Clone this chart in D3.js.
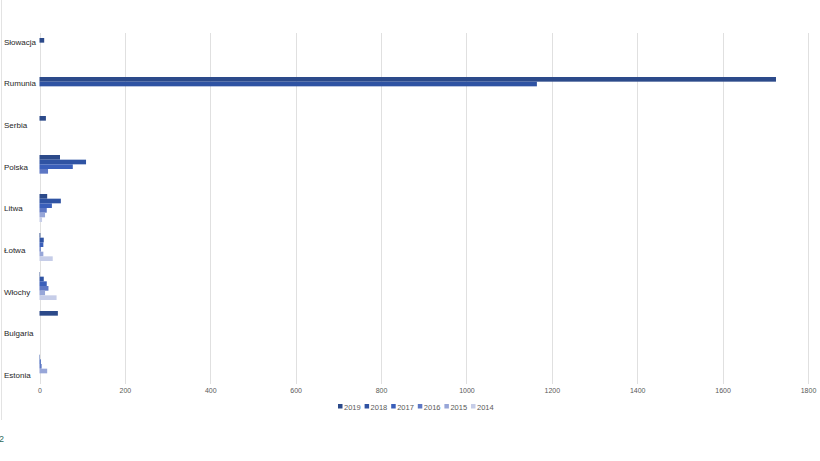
<!DOCTYPE html>
<head>
    <meta charset="utf-8">
</head>

<style type="text/css">

    body {
        margin: 0;
        background: #fff;
        font-family: "Liberation Sans", Arial, sans-serif;
    }

    .grid line {
        stroke: #e0e0e0;
        stroke-width: 1;
    }

    .xaxis text {
        fill: #595959;
        font-size: 7px;
    }

    .cat-label {
        fill: #262626;
        font-size: 8px;
    }

    .legend text {
        fill: #595959;
        font-size: 7.5px;
    }

</style>

<body>
</body>

<script src="https://d3js.org/d3.v7.min.js"></script>

<script>

// countries, top to bottom
var countries = ["Słowacja", "Rumunia", "Serbia", "Polska", "Litwa", "Łotwa", "Włochy", "Bulgaria", "Estonia"];
var years = ["2019", "2018", "2017", "2016", "2015", "2014"];
var xTicks = [0, 200, 400, 600, 800, 1000, 1200, 1400, 1600, 1800];

// one array per year, same order as countries
var v2019 = [11, 1725, 15, 48, 18, 2, 1, 43, 0];
var v2018 = [0, 1165, 0, 109, 50, 10, 10, 0, 1];
var v2017 = [0, 0, 0, 78, 29, 9, 17, 0, 3];
var v2016 = [0, 0, 0, 20, 17, 3, 21, 0, 5];
var v2015 = [0, 0, 0, 0, 13, 9, 13, 0, 18];
var v2014 = [0, 0, 0, 0, 6, 31, 40, 0, 0];

var colors = ["#2c4a8a", "#2f53a3", "#3a5fba", "#5d77c4", "#97a6d8", "#c6cde8"];

var seriesValues = [v2019, v2018, v2017, v2016, v2015, v2014];

var W = 820, H = 461;

var svg = d3.select("body").append("svg")
    .attr("width", W)
    .attr("height", H);

var xscale = d3.scaleLinear()
    .domain([0, 1800])
    .range([39.5, 808]);

var yscale = d3.scaleBand()
    .domain(countries)
    .range([32.5, 383.5])
    .paddingInner(0.282)
    .paddingOuter(0.141);

var yinner = d3.scaleBand()
    .domain(years)
    .range([0, yscale.bandwidth()]);

// labels sit on their own spacing in the picture
var labelScale = d3.scalePoint()
    .domain(countries)
    .range([42, 375]);

var colorScale = d3.scaleOrdinal()
    .domain(years)
    .range(colors);

// faint frame line at left edge
svg.append("line")
    .attr("x1", 1.5).attr("x2", 1.5)
    .attr("y1", 0).attr("y2", 420)
    .attr("stroke", "#e3e3e3");

// gridlines
svg.append("g")
    .attr("class", "grid")
    .selectAll("line")
    .data(xTicks)
    .enter()
    .append("line")
    .attr("x1", function(d) { return Math.round(xscale(d)) + 0.5; })
    .attr("x2", function(d) { return Math.round(xscale(d)) + 0.5; })
    .attr("y1", 33)
    .attr("y2", 384);

// x axis labels
var xAxis = d3.axisBottom(xscale)
    .tickValues(xTicks)
    .tickSize(0)
    .tickPadding(0)
    .tickFormat(d3.format("d"));

svg.append("g")
    .attr("class", "xaxis")
    .attr("transform", "translate(0,388)")
    .call(xAxis)
    .call(function(g) { g.select(".domain").remove(); })
    .selectAll("text")
    .attr("font-family", "Liberation Sans, Arial, sans-serif");

// bars
var table = [];
countries.forEach(function(c, i) {
    years.forEach(function(y, j) {
        table.push({country: c, year: y, val: seriesValues[j][i]});
    });
});

svg.append("g").selectAll("rect")
    .data(table)
    .enter()
    .append("rect")
    .attr("x", xscale(0))
    .attr("y", function(d) { return yscale(d.country) + yinner(d.year); })
    .attr("height", yinner.bandwidth())
    .attr("width", function(d) { return Math.max(0, xscale(d.val) - xscale(0)); })
    .attr("fill", function(d) { return colorScale(d.year); });

// category labels
svg.append("g").selectAll("text")
    .data(countries)
    .enter()
    .append("text")
    .attr("class", "cat-label")
    .attr("x", 4)
    .attr("y", function(d) { return labelScale(d); })
    .attr("dy", "0.35em")
    .text(function(d) { return d; });

// legend
var legendX = d3.scalePoint()
    .domain(years)
    .range([338, 471]);

var legend = svg.append("g")
    .attr("class", "legend")
    .selectAll("g")
    .data(years)
    .enter()
    .append("g")
    .attr("transform", function(d) { return "translate(" + legendX(d) + ",407)"; });

legend.append("rect")
    .attr("x", 0)
    .attr("y", -3)
    .attr("width", 4.5)
    .attr("height", 4.5)
    .attr("fill", function(d) { return colorScale(d); });

legend.append("text")
    .attr("x", 6)
    .attr("y", 0)
    .attr("dy", "0.35em")
    .text(function(d) { return d; });

// cut-off glyph at bottom left
svg.append("text")
    .attr("x", -1)
    .attr("y", 442)
    .attr("fill", "#2f6b5a")
    .attr("font-size", "9px")
    .text("2");

</script>
